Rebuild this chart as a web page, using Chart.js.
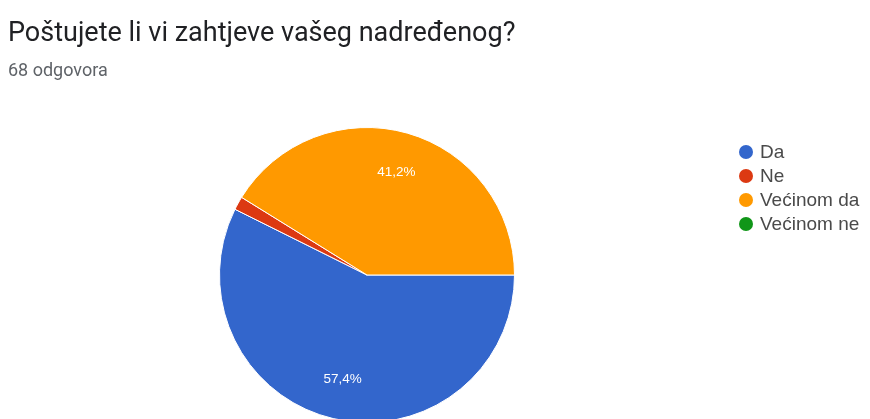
<!DOCTYPE html>
<html>
<head>
<meta charset="utf-8">
<script src="https://cdn.jsdelivr.net/npm/chart.js@4"></script>
<style>
    html, body { margin: 0; padding: 0; background: #fff; overflow: hidden; }
</style>
</head>
<body>
<canvas id="grafikon" width="870" height="440"></canvas>
<script>
const naslov = 'Poštujete li vi zahtjeve vašeg nadređenog?'
const podnaslov = '68 odgovora'
const odgovori = ['Da', 'Ne', 'Većinom da', 'Većinom ne']
const broj_odgovora = [39, 1, 28, 0]
const boje = ['#3366cc', '#dc3912', '#ff9900', '#109618']

function postotak(vrijednost, ukupno){
    return (vrijednost / ukupno * 100).toFixed(1).replace('.', ',') + '%'
}

// postoci unutar kriski (samo za vece kriske)
const oznake_kriski = {
    id: 'oznake_kriski',
    afterDatasetsDraw(chart){
        const ctx = chart.ctx
        const podaci = chart.data.datasets[0].data
        const ukupno = podaci.reduce((a, b) => a + b, 0)
        const meta = chart.getDatasetMeta(0)
        ctx.save()
        ctx.fillStyle = '#ffffff'
        ctx.font = '13.5px "Liberation Sans", Arial, sans-serif'
        ctx.textAlign = 'center'
        ctx.textBaseline = 'middle'
        meta.data.forEach(function(arc, i){
            if(podaci[i] / ukupno < 0.05) return
            const p = arc.getProps(['x', 'y', 'startAngle', 'endAngle', 'outerRadius'], true)
            const kut = (p.startAngle + p.endAngle) / 2
            const r = p.outerRadius * 0.725
            ctx.fillText(postotak(podaci[i], ukupno), p.x + Math.cos(kut) * r, p.y + Math.sin(kut) * r)
        })
        ctx.restore()
    }
}

// legenda s kruzicima desno
const legenda = {
    id: 'legenda',
    afterDraw(chart){
        const ctx = chart.ctx
        const ds = chart.data.datasets[0]
        ctx.save()
        ctx.font = '19px "Liberation Sans", Arial, sans-serif'
        ctx.textBaseline = 'middle'
        chart.data.labels.forEach(function(tekst, i){
            const y = 152 + i * 24
            ctx.fillStyle = ds.backgroundColor[i]
            ctx.beginPath()
            ctx.arc(746, y, 7, 0, Math.PI * 2)
            ctx.fill()
            ctx.fillStyle = '#4a4a4a'
            ctx.fillText(tekst, 760, y + 1)
        })
        ctx.restore()
    }
}

const ctx = document.getElementById('grafikon').getContext('2d')
const grafikon = new Chart(ctx, {
    type: 'pie',
    data: {
        labels: odgovori,
        datasets: [{
            label: 'Odgovori',
            data: broj_odgovora,
            backgroundColor: boje,
            borderColor: '#ffffff',
            borderWidth: 1,
            hoverOffset: 0
        }]
    },
    options: {
        responsive: false,
        animation: false,
        rotation: 90, // pocinje na 3 sata
        layout: {
            padding: { left: 8, right: 144, top: 0, bottom: 17 }
        },
        plugins: {
            legend: { display: false },
            tooltip: { enabled: false },
            title: {
                display: true,
                text: naslov,
                align: 'start',
                color: '#202124',
                font: { family: 'Roboto', size: 27, weight: 'normal' },
                padding: { top: 17.8, bottom: 10 }
            },
            subtitle: {
                display: true,
                text: podnaslov,
                align: 'start',
                color: '#5f6368',
                font: { family: 'Roboto', size: 18, weight: 'normal' },
                padding: { top: 0, bottom: 45.2 }
            }
        }
    },
    plugins: [oznake_kriski, legenda]
})
</script>
</body>
</html>
